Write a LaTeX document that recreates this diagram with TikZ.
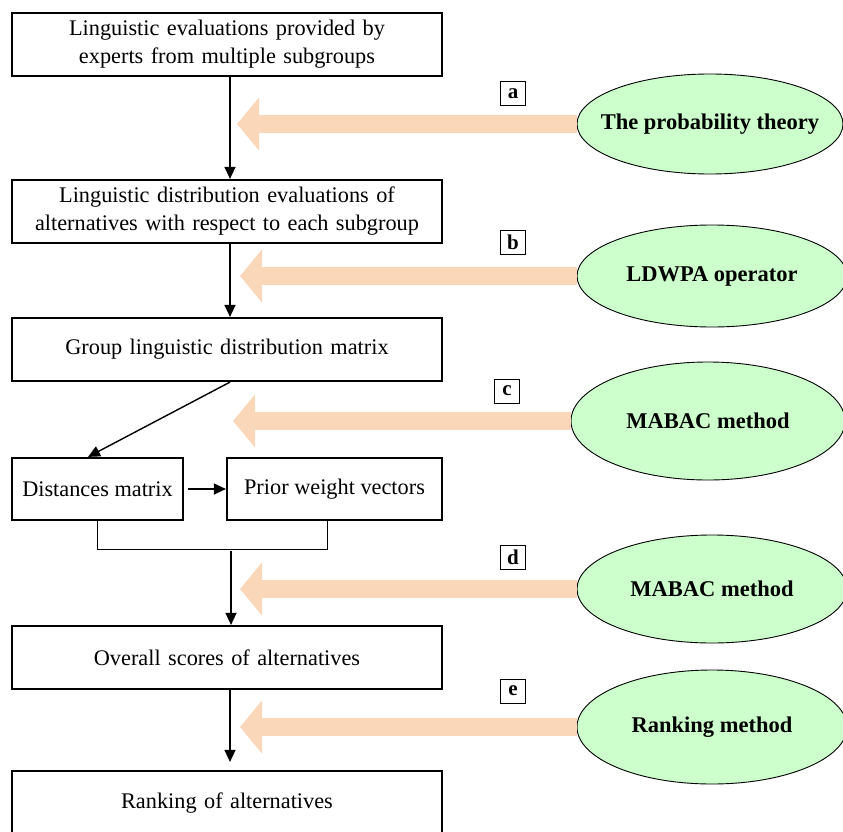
\documentclass[tikz,border=0pt]{standalone}
\usepackage{fontspec}
\setmainfont{Liberation Serif}
\usetikzlibrary{arrows.meta,shapes.geometric,calc}
\definecolor{peach}{HTML}{FAD7B9}
\definecolor{lgreen}{HTML}{CCFFCC}
\tikzset{
  stepbox/.style={draw, line width=2.2pt, rectangle, align=center, inner sep=2pt,
    font=\fontsize{22.3}{28}\selectfont},
  bigbox/.style={stepbox, minimum width=430, minimum height=63, text width=424},
  oval/.style={ellipse, draw, line width=0.9pt, fill=lgreen, inner ysep=0pt, inner xsep=-30pt,
    font=\bfseries\fontsize{22.5}{26}\selectfont},
  tag/.style={draw, line width=1pt, inner sep=0pt, minimum width=25, minimum height=24,
    font=\bfseries\fontsize{21}{24}\selectfont},
  flow/.style={draw, line width=1.4pt, -{Triangle[length=12pt,width=11pt]}},
  fat/.style={draw=peach, line width=18pt, -{Triangle[length=22pt,width=52pt]}},
}
\begin{document}
\begin{tikzpicture}[x=1pt,y=-1pt]
\useasboundingbox (0,0) rectangle (843,832);
% main boxes
\node[bigbox] (b1) at (227,44.5) {Linguistic evaluations provided by\\experts from multiple subgroups};
\node[bigbox] (b2) at (227,211.5) {Linguistic distribution evaluations of\\alternatives with respect to each subgroup};
\node[bigbox] (b3) at (227,349.5) {Group linguistic distribution matrix};
\node[stepbox, minimum width=171, minimum height=62] (b4) at (97.5,489) {Distances matrix};
\node[stepbox, minimum width=215, minimum height=62] (b5) at (334.5,489) {Prior weight vectors};
\node[bigbox] (b6) at (227,657.5) {Overall scores of alternatives};
\node[bigbox, minimum height=64] (b7) at (227,803) {Ranking of alternatives};
% ellipses
\node[oval, minimum width=266, minimum height=100] (e1) at (710,124) {The probability theory};
\node[oval, minimum width=270, minimum height=102] (e2) at (712,276) {LDWPA operator};
\node[oval, minimum width=274, minimum height=118] (e3) at (708,421) {MABAC method};
\node[oval, minimum width=270, minimum height=108] (e4) at (712,589) {MABAC method};
\node[oval, minimum width=270, minimum height=114] (e5) at (712,727) {Ranking method};
% tags
\node[tag] (ta) at (513,94) {a};
\node[tag] (tb) at (513,242) {b};
\node[tag] (tc) at (507,391) {c};
\node[tag] (td) at (513,557) {d};
\node[tag] (te) at (513,691) {e};
% fat arrow tips
\coordinate (pa) at (237,124);
\coordinate (pb) at (240,276);
\coordinate (pc) at (233,421);
\coordinate (pd) at (240,589);
\coordinate (pe) at (240,727);
\draw[fat] (e1.west) -- (pa);
\draw[fat] (e2.west) -- (pb);
\draw[fat] (e3.west) -- (pc);
\draw[fat] (e4.west) -- (pd);
\draw[fat] (e5.west) -- (pe);
% flow arrows
\draw[flow] ([xshift=3]b1.south) -- ([xshift=3]b2.north);
\draw[flow] ([xshift=3]b2.south) -- ([xshift=3]b3.north);
\draw[flow] ([xshift=3]b3.south) -- ([xshift=-9.5]b4.north);
\draw[flow, shorten <=4pt] (b4.east) -- (b5.west);
\coordinate (br) at (231,548);
\draw[line width=0.8pt] (b4.south) -- ++(0,28) -| ([xshift=-7.5]b5.south);
\draw[flow, shorten <=3pt] (br) -- (br |- b6.north);
\draw[flow, shorten >=8pt] ([xshift=3]b6.south) -- ([xshift=3]b7.north);
\end{tikzpicture}
\end{document}
